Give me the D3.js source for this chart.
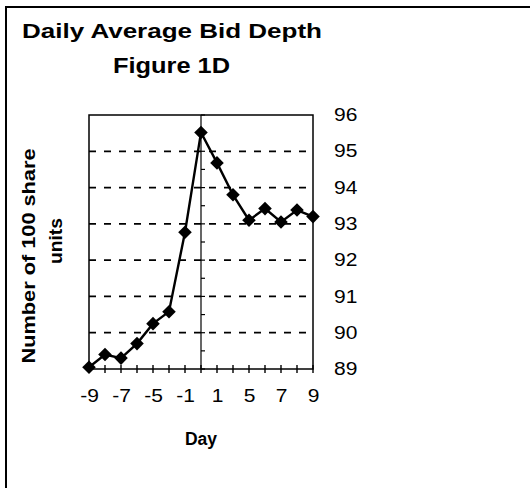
<!DOCTYPE html>
<html>
<head>
<meta charset="utf-8">
<script src="https://cdn.jsdelivr.net/npm/d3@7"></script>
<style>
  body { margin: 0; background: white; }
  text { font-family: "Liberation Sans", Arial, sans-serif; fill: black; }
</style>
</head>
<body>
<script>
// chart data
const days = ["-9", "-8", "-7", "-6", "-5", "-3", "-1", "0", "1", "3", "5", "6", "7", "8", "9"];
const bidDepth = [89.05, 89.4, 89.3, 89.7, 90.25, 90.58, 92.77, 95.52, 94.68, 93.8, 93.1, 93.42, 93.05, 93.38, 93.2];
const dayLabels = ["-9", "-7", "-5", "-1", "1", "5", "7", "9"];
const yTicks = [89, 90, 91, 92, 93, 94, 95, 96];
const yMinor = d3.range(89, 96.01, 0.5);

const W = 530, H = 488;
const plot = {left: 89, right: 313, top: 115, bottom: 369};
const stretch = 1.2; // the scan is a bit wider than the font

const svg = d3.select("body").append("svg")
    .attr("width", W)
    .attr("height", H);

svg.append("rect").attr("width", W).attr("height", H).attr("fill", "white");

// outer frame, runs off the right and bottom edges
svg.append("rect")
    .attr("x", 6).attr("y", 7)
    .attr("width", 560).attr("height", 520)
    .attr("fill", "none")
    .attr("stroke", "black")
    .attr("stroke-width", 2);

let x = d3.scalePoint().domain(days).range([plot.left, plot.right]);
let y = d3.scaleLinear().domain([89, 96]).range([plot.bottom, plot.top]);

// dashed gridlines
svg.append("g")
  .selectAll("line")
  .data(yTicks.slice(1, -1)).enter()
  .append("line")
    .attr("x1", plot.left).attr("x2", plot.right)
    .attr("y1", d => y(d)).attr("y2", d => y(d))
    .attr("stroke", "black")
    .attr("stroke-width", 1.8)
    .attr("stroke-dasharray", "7,8");

// plot box
svg.append("rect")
    .attr("x", plot.left).attr("y", plot.top)
    .attr("width", plot.right - plot.left).attr("height", plot.bottom - plot.top)
    .attr("fill", "none")
    .attr("stroke", "black")
    .attr("stroke-width", 1.5);

// value axis crosses at day 0
const x0 = x("0");
svg.append("line")
    .attr("x1", x0).attr("x2", x0)
    .attr("y1", plot.top).attr("y2", plot.bottom)
    .attr("stroke", "black").attr("stroke-width", 1.2);

svg.append("g")
  .selectAll("line")
  .data(yMinor).enter()
  .append("line")
    .attr("x1", x0).attr("x2", x0 + 4)
    .attr("y1", d => y(d)).attr("y2", d => y(d))
    .attr("stroke", "black").attr("stroke-width", 1.2);

// category ticks on the bottom axis
svg.append("g")
  .selectAll("line")
  .data(days).enter()
  .append("line")
    .attr("x1", d => x(d)).attr("x2", d => x(d))
    .attr("y1", plot.bottom - 4).attr("y2", plot.bottom + 4)
    .attr("stroke", "black").attr("stroke-width", 1.4);

const widen = function(sel) {
  sel.each(function() {
    let len = this.getComputedTextLength();
    d3.select(this).attr("textLength", len * stretch).attr("lengthAdjust", "spacingAndGlyphs");
  });
};

// right hand labels
let yAxis = svg.append("g")
    .attr("transform", "translate(" + plot.right + ",0)")
    .call(d3.axisRight(y).tickValues(yTicks).tickSize(0).tickPadding(21).tickFormat(d3.format("d")));
yAxis.select(".domain").remove();
yAxis.selectAll("text")
    .attr("font-size", "17.5px")
    .attr("font-family", "Liberation Sans, Arial, sans-serif")
    .call(widen);

// bottom labels, every other category
let xAxis = svg.append("g")
    .attr("transform", "translate(0," + plot.bottom + ")")
    .call(d3.axisBottom(x).tickValues(days.filter(d => dayLabels.includes(d))).tickSize(0).tickPadding(21));
xAxis.select(".domain").remove();
xAxis.selectAll("text")
    .attr("font-size", "17.5px")
    .attr("font-family", "Liberation Sans, Arial, sans-serif")
    .call(widen);

// series
const line = d3.line()
    .x((d, i) => x(days[i]))
    .y(d => y(d));

svg.append("path")
    .datum(bidDepth)
    .attr("d", line)
    .attr("fill", "none")
    .attr("stroke", "black")
    .attr("stroke-width", 2.4);

svg.append("g")
  .selectAll("path")
  .data(bidDepth).enter()
  .append("path")
    .attr("d", d3.symbol().type(d3.symbolSquare).size(92))
    .attr("transform", (d, i) => "translate(" + x(days[i]) + "," + y(d) + ") rotate(45)")
    .attr("fill", "black");

// titles
svg.append("text")
    .attr("x", 22).attr("y", 37.5)
    .attr("font-size", "21px").attr("font-weight", "bold")
    .attr("textLength", 300).attr("lengthAdjust", "spacingAndGlyphs")
    .text("Daily Average Bid Depth");

svg.append("text")
    .attr("x", 113).attr("y", 72.5)
    .attr("font-size", "22px").attr("font-weight", "bold")
    .attr("textLength", 117).attr("lengthAdjust", "spacingAndGlyphs")
    .text("Figure 1D");

svg.append("text")
    .attr("transform", "translate(35,256) rotate(-90)")
    .attr("text-anchor", "middle")
    .attr("font-size", "18.5px").attr("font-weight", "bold")
    .attr("textLength", 215).attr("lengthAdjust", "spacingAndGlyphs")
    .text("Number of 100 share");

svg.append("text")
    .attr("transform", "translate(61.5,241) rotate(-90)")
    .attr("text-anchor", "middle")
    .attr("font-size", "18.5px").attr("font-weight", "bold")
    .attr("textLength", 46).attr("lengthAdjust", "spacingAndGlyphs")
    .text("units");

svg.append("text")
    .attr("x", 201).attr("y", 445)
    .attr("text-anchor", "middle")
    .attr("font-size", "17.5px").attr("font-weight", "bold")
    .text("Day");
</script>
</body>
</html>
